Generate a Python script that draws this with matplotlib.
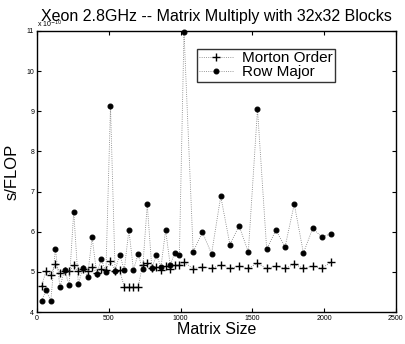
import matplotlib
matplotlib.use('Agg')
import matplotlib.pyplot as plt

plt.rcParams['font.family'] = ['Liberation Sans', 'DejaVu Sans']

# Tamanhos das matrizes (passo 32 ate 1024, depois passo 64)
tamanhos = list(range(32, 1025, 32)) + list(range(1088, 2049, 64))

# s/FLOP (x 1e-10)
morton = [4.65, 5.03, 4.93, 5.20, 4.97, 5.03, 5.01, 5.16, 5.01, 5.07,
          5.01, 5.13, 4.97, 5.07, 5.05, 5.27, 5.03, 5.04, 4.62, 4.62,
          4.62, 4.62, 5.17, 5.21, 5.10, 5.13, 5.05, 5.15, 5.06, 5.16,
          5.17, 5.24,
          5.08, 5.13, 5.09, 5.17, 5.09, 5.14, 5.09, 5.21, 5.09, 5.14,
          5.09, 5.19, 5.09, 5.14, 5.09, 5.24]

row_major = [4.28, 4.55, 4.27, 5.57, 4.63, 5.04, 4.68, 6.50, 4.70, 5.10,
             4.88, 5.86, 4.95, 5.32, 4.99, 9.12, 5.03, 5.43, 5.05, 6.04,
             5.05, 5.44, 5.07, 6.68, 5.09, 5.42, 5.13, 6.04, 5.17, 5.48,
             5.42, 10.98,
             5.50, 5.99, 5.45, 6.88, 5.68, 6.15, 5.49, 9.05, 5.56, 6.04,
             5.62, 6.69, 5.47, 6.08, 5.87, 5.95]

fig = plt.figure(figsize=(4.06, 3.44), dpi=100)
ax = fig.add_axes([0.0911, 0.093, 0.884, 0.817])

ax.plot(tamanhos, morton, linestyle=':', color='#777777', linewidth=0.6,
        marker='+', markersize=5.5, markeredgewidth=1.0,
        markeredgecolor='black', markerfacecolor='black',
        label='Morton Order', clip_on=False)
ax.plot(tamanhos, row_major, linestyle=':', color='#777777', linewidth=0.6,
        marker='o', markersize=3.5, markeredgewidth=0.8,
        markeredgecolor='black', markerfacecolor='black',
        label='Row Major', clip_on=False)

ax.set_xlim(0, 2500)
ax.set_ylim(4, 11)
ax.set_xticks([0, 500, 1000, 1500, 2000, 2500])
ax.set_yticks(range(4, 12))
ax.tick_params(direction='in', length=3, width=0.8, labelsize=5,
               top=True, right=True, pad=2)
for s in ax.spines.values():
    s.set_linewidth(1.0)

ax.set_title('Xeon 2.8GHz -- Matrix Multiply with 32x32 Blocks',
             fontsize=11.5, pad=7)
ax.set_xlabel('Matrix Size', fontsize=11.5, labelpad=0)
ax.set_ylabel('s/FLOP', fontsize=12, labelpad=5)
ax.text(0.0, 1.005, 'x 10$^{-10}$', transform=ax.transAxes,
        fontsize=5, ha='left', va='bottom')

leg = ax.legend(loc='upper left', bbox_to_anchor=(0.446, 0.936),
                fontsize=11, frameon=True, fancybox=False,
                edgecolor='black', numpoints=1, handlelength=2.2,
                borderpad=0.15, labelspacing=0.0, handletextpad=0.6,
                borderaxespad=0.0)
leg.get_frame().set_linewidth(1.0)

fig.savefig('out.png', dpi=100)
